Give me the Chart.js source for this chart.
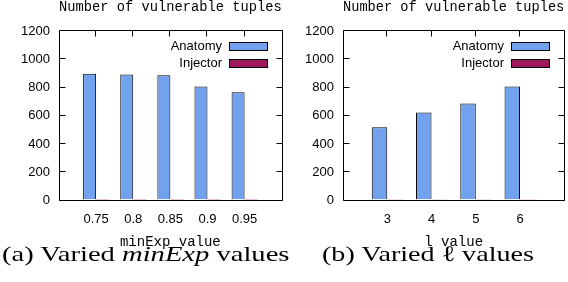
<!DOCTYPE html>
<html lang="en">
<head>
<meta charset="utf-8">
<title>Number of vulnerable tuples</title>
<script src="https://cdn.jsdelivr.net/npm/chart.js@4.4.1/dist/chart.umd.min.js"></script>
<style>
  body { margin: 0; background: #fff; }
  #wrap { position: relative; width: 568px; height: 282px; overflow: hidden; }
  canvas { position: absolute; top: 0; }
  .cap { position: absolute; top: 243px; font: 22px "Liberation Serif", "Times New Roman", serif; line-height: 22px; white-space: nowrap; transform-origin: left top; color: #000; }
</style>
</head>
<body>
<div id="wrap">
  <canvas id="chartA" width="284" height="250" style="left:0"></canvas>
  <canvas id="chartB" width="284" height="250" style="left:284px"></canvas>
  <div class="cap" id="capA" style="left:2px">(a) Varied <i>minExp</i> values</div>
  <div class="cap" id="capB" style="left:322px">(b) Varied ℓ values</div>
</div>
<script>
const titleText = 'Number of vulnerable tuples';

// (a) minExp
const minExpLabels = ['0.75', '0.8', '0.85', '0.9', '0.95'];
const minExpAnatomy = [891, 885, 880, 800, 760];
const minExpInjector = [3, 3, 3, 3, 3];

// (b) l
const lLabels = ['3', '4', '5', '6'];
const lAnatomy = [512, 616, 680, 800];
const lInjector = [2, 2, 2, 2];

const yMax = 1200;
const yStep = 200;

const anatomyColor = 'rgb(114, 161, 238)';
const injectorColor = 'rgb(158, 26, 92)';

const sansFont = { family: '"Liberation Sans", Arial, sans-serif', size: 13 };
const monoFont = { family: '"Liberation Mono", "Courier New", monospace', size: 14 };

// gnuplot-style box, inward ticks and legend
const frame = {
  id: 'frame',
  afterDatasetsDraw(chart) {
    const { ctx, chartArea: a, scales } = chart;
    const L = Math.round(a.left) + 0.5, R = Math.round(a.right) + 0.5;
    const T = Math.round(a.top) + 0.5, B = Math.round(a.bottom) + 0.5;
    ctx.save();
    ctx.strokeStyle = '#000';
    ctx.lineWidth = 1;
    ctx.beginPath();
    ctx.rect(L, T, R - L, B - T);
    scales.y.ticks.forEach(t => {
      const y = Math.round(scales.y.getPixelForValue(t.value)) + 0.5;
      ctx.moveTo(L, y); ctx.lineTo(L + 6, y);
      ctx.moveTo(R, y); ctx.lineTo(R - 6, y);
    });
    scales.x.ticks.forEach(t => {
      const x = Math.round(scales.x.getPixelForValue(t.value)) - 0.5;
      ctx.moveTo(x, T); ctx.lineTo(x, T + 6);
    });
    ctx.stroke();

    // legend
    ctx.font = sansFont.size + 'px ' + sansFont.family;
    ctx.textAlign = 'right';
    ctx.textBaseline = 'middle';
    chart.data.datasets.forEach((ds, i) => {
      const cy = a.top + 16 + i * 16.6;
      const x1 = Math.round(a.right - 15 - 38) + 0.5;
      const y1 = Math.round(cy - 4) + 0.5;
      ctx.fillStyle = ds.backgroundColor;
      ctx.fillRect(x1, y1, 38, 8);
      ctx.strokeRect(x1, y1, 38, 8);
      ctx.fillStyle = '#000';
      ctx.fillText(ds.label, x1 - 7.5, cy + 0.5);
    });
    ctx.restore();
  }
};

function makeChart(id, labels, anatomy, injector, xTitle, rightPad) {
  return new Chart(document.getElementById(id), {
    type: 'bar',
    data: {
      datasets: [
        { label: 'Anatomy', data: anatomy.map((v, i) => ({ x: i, y: v })),
          backgroundColor: anatomyColor, borderColor: '#000', borderWidth: 1 },
        { label: 'Injector', data: injector.map((v, i) => ({ x: i, y: v })),
          backgroundColor: injectorColor, borderColor: injectorColor, borderWidth: 0 }
      ]
    },
    options: {
      responsive: false,
      animation: false,
      layout: { padding: { left: 0, right: rightPad, top: 0, bottom: 0 } },
      datasets: { bar: { categoryPercentage: 0.7, barPercentage: 1 } },
      plugins: { legend: { display: false }, title: { display: false }, tooltip: { enabled: false } },
      scales: {
        x: {
          type: 'linear', position: 'bottom', min: -1, max: labels.length, offset: false,
          afterBuildTicks: ax => { ax.ticks = labels.map((_, i) => ({ value: i })); },
          afterFit: ax => { ax.height = 50.5; },
          grid: { display: false, drawTicks: false },
          border: { display: false },
          ticks: { callback: v => labels[v], font: sansFont, color: '#000', padding: 12,
                   maxRotation: 0, autoSkip: false },
          title: { display: true, text: xTitle, font: monoFont, color: '#000',
                   padding: { top: 0, bottom: -1 } }
        },
        x2: {
          type: 'linear', position: 'top', min: -1, max: labels.length,
          afterFit: ax => { ax.height = 30; },
          grid: { display: false, drawTicks: false },
          border: { display: false },
          ticks: { display: false },
          title: { display: true, text: titleText, color: '#000',
                   font: Object.assign({ lineHeight: 1 }, monoFont),
                   padding: { top: 0, bottom: 0 } }
        },
        y: {
          min: 0, max: yMax,
          afterFit: ax => { ax.width = 59; },
          grid: { display: false, drawTicks: false },
          border: { display: false },
          ticks: { stepSize: yStep, callback: v => String(v), font: sansFont, color: '#000',
                   padding: 9, labelOffset: 1 }
        }
      }
    },
    plugins: [frame]
  });
}

makeChart('chartA', minExpLabels, minExpAnatomy, minExpInjector, 'minExp value', 2.3);
makeChart('chartB', lLabels, lAnatomy, lInjector, 'l value', 3.7);

// stretch captions to the reference widths
[['capA', 287], ['capB', 212]].forEach(([id, w]) => {
  const el = document.getElementById(id);
  el.style.transform = 'scaleX(' + (w / el.offsetWidth) + ')';
});
</script>
</body>
</html>
